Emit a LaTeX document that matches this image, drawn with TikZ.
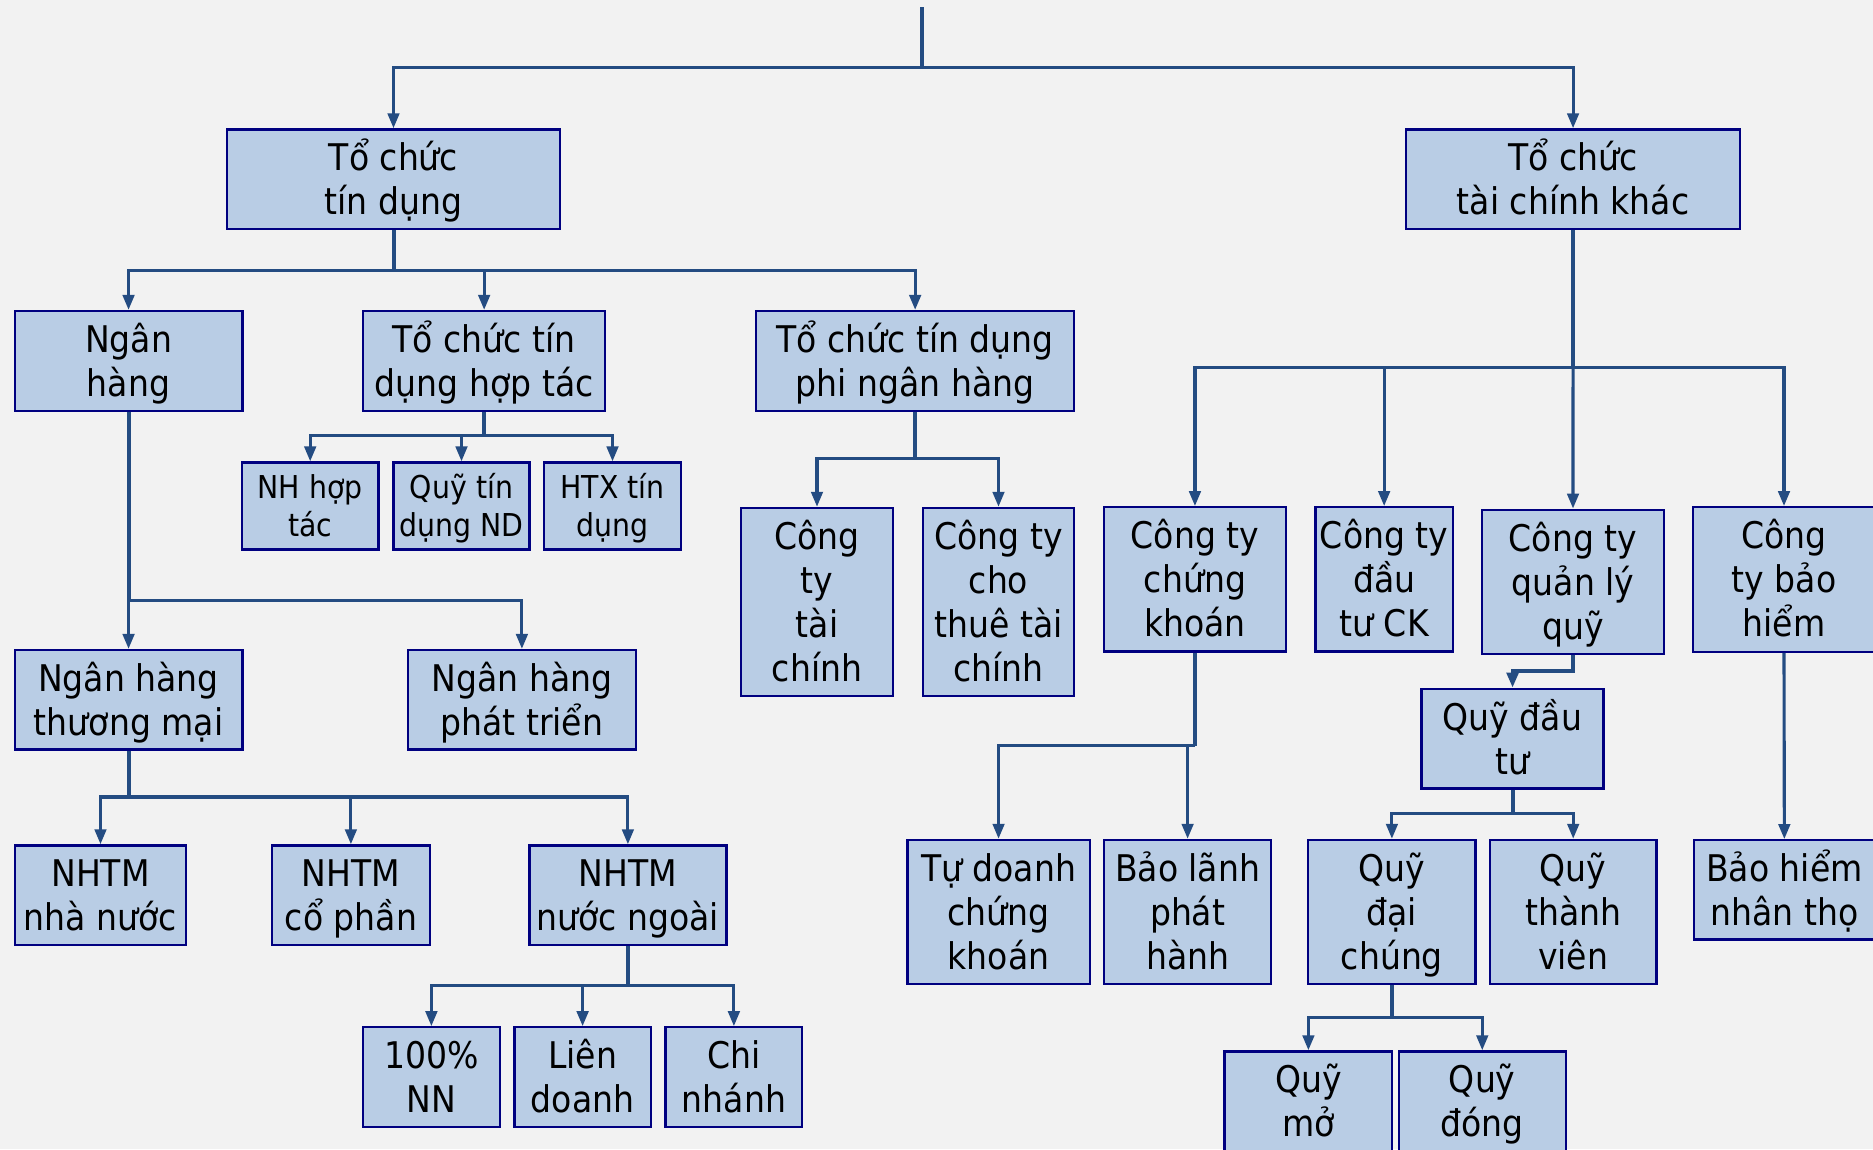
\documentclass[tikz,border=0pt]{standalone}
\usepackage{fontspec}
\setmainfont{DejaVu Sans}[FakeStretch=0.9]
\usetikzlibrary{arrows.meta}
\definecolor{bg}{HTML}{F2F2F2}
\definecolor{boxfill}{HTML}{B9CDE5}
\definecolor{boxline}{HTML}{000080}
\definecolor{conn}{RGB}{36,76,130}
\tikzset{
  box/.style={draw=boxline, fill=boxfill, line width=0.9pt, inner sep=0pt, align=center,
    font={\fontsize{14.7pt}{17.6pt}\selectfont\lineskiplimit=-20pt}},
  smallbox/.style={font={\fontsize{12.6pt}{15pt}\selectfont\lineskiplimit=-20pt}},
  ln/.style={draw=conn, line width=1.25pt},
  trunk/.style={draw=conn, line width=1.6pt},
  arr/.style={ln, -{Triangle[length=6pt,width=4.6pt]}},
}
\newcommand\bx[7][]{%
  \node[box,#1,minimum width={(#5-#3)*0.4pt},minimum height={(#6-#4)*0.4pt}]
    (#2) at ({(#3+#5)/2},{(#4+#6)/2}) {\rule{0pt}{1.02em}#7\rule[-0.29em]{0pt}{0pt}};}
\begin{document}
\begin{tikzpicture}[x=0.4pt,y=-0.4pt]
\clip (0,0) rectangle (1873,1149);
\fill[bg] (0,0) rectangle (1873,1149);

% boxes
\bx{tctd}{227}{129.4}{560}{229.2}{Tổ chức\\tín dụng}
\bx{tctck}{1406.2}{129.4}{1739.9}{229.2}{Tổ chức\\tài chính khác}
\bx{nh}{14.7}{311}{242.4}{410.7}{Ngân\\hàng}
\bx{ht}{363}{311}{605.3}{410.7}{Tổ chức tín\\dụng hợp tác}
\bx{pnh}{756}{311}{1074.3}{410.7}{Tổ chức tín dụng\\phi ngân hàng}
\bx[smallbox]{nhht}{242}{462.5}{378.4}{549.5}{NH hợp\\tác}
\bx[smallbox]{qtd}{393.5}{462.5}{529.5}{549.5}{Quỹ tín\\dụng ND}
\bx[smallbox]{htx}{544}{462.5}{681}{549.5}{HTX tín\\dụng}
\bx{cttc}{741}{507.9}{893}{696.1}{Công\\ty\\tài\\chính}
\bx{cttt}{922.7}{507.9}{1074.3}{696.1}{Công ty\\cho\\thuê tài\\chính}
\bx{ctck}{1104}{507.2}{1285.9}{651.4}{Công ty\\chứng\\khoán}
\bx{ctdt}{1315.6}{507.2}{1452.7}{651.4}{Công ty\\đầu\\tư CK}
\bx{ctql}{1482}{509.7}{1664}{654}{Công ty\\quản lý\\quỹ}
\bx{ctbh}{1693}{507.2}{1875}{651.7}{Công\\ty bảo\\hiểm}
\bx{nhtm}{14.7}{650}{242.4}{749.6}{Ngân hàng\\thương mại}
\bx{nhpt}{408}{650}{635.8}{749.6}{Ngân hàng\\phát triển}
\bx{qdt}{1421.6}{688.8}{1603.5}{788.5}{Quỹ đầu\\tư}
\bx{nn}{14.7}{845.4}{186.3}{945.1}{NHTM\\nhà nước}
\bx{cp}{272}{845.4}{429.8}{945.1}{NHTM\\cổ phần}
\bx{ng}{529.4}{845.4}{726.4}{945.1}{NHTM\\nước ngoài}
\bx{td}{907.4}{839.9}{1089.7}{984}{Tự doanh\\chứng\\khoán}
\bx{bl}{1104}{839.9}{1271.2}{984}{Bảo lãnh\\phát\\hành}
\bx{qdc}{1308.3}{839.9}{1475.5}{984}{Quỹ\\đại\\chúng}
\bx{qtv}{1489.8}{839.9}{1656.6}{984}{Quỹ\\thành\\viên}
\bx{bhnt}{1693.7}{840.2}{1875}{939.6}{Bảo hiểm\\nhân thọ}
\bx{p100}{363}{1027.3}{499.8}{1127}{100\%\\NN}
\bx{ld}{514.4}{1027.3}{650.8}{1127}{Liên\\doanh}
\bx{cn}{665.5}{1027.3}{802.3}{1127}{Chi\\nhánh}
\bx{qm}{1224.6}{1051.4}{1392.2}{1151}{Quỹ\\mở}
\bx{qd}{1398.8}{1051.4}{1565.7}{1151}{Quỹ\\đóng}

% connectors
\coordinate (top) at (921.8,7.3);
\coordinate (j0) at (921.8,67.8);
\draw[trunk] (top) -- (j0);
\draw[arr] (j0) -| (tctd.north);
\draw[arr] (j0) -| (tctck.north);

\coordinate (j1) at (393.5,270.3);
\draw[trunk] (tctd.south) -- (j1);
\draw[arr] (j1) -| (nh.north);
\draw[arr] (j1) -| (ht.north);
\draw[arr] (j1) -| (pnh.north);

\coordinate (j2) at (484.15,435.6);
\draw[trunk] (ht.south) -- (j2);
\draw[arr] (j2) -| (nhht.north);
\draw[arr] (j2) -| (qtd.north);
\draw[arr] (j2) -| (htx.north);

\coordinate (j3) at (915.15,458.4);
\draw[trunk] (pnh.south) -- (j3);
\draw[arr] (j3) -| (cttc.north);
\draw[arr] (j3) -| (cttt.north);

\coordinate (j4) at (128.55,600.4);
\draw[trunk] (nh.south) -- (j4);
\draw[arr] (j4) -- (nhtm.north);
\draw[arr] (j4) -| (nhpt.north);

\coordinate (j5) at (128.55,797);
\draw[trunk] (nhtm.south) -- (j5);
\draw[arr] (j5) -| (nn.north);
\draw[arr] (j5) -| (cp.north);
\draw[arr] (j5) -| (ng.north);

\coordinate (j6) at (627.9,985.8);
\draw[trunk] (ng.south) -- (j6);
\draw[arr] (j6) -| (p100.north);
\draw[arr] (j6) -| (ld.north);
\draw[arr] (j6) -| (cn.north);

\coordinate (j7) at (1573.05,367.8);
\draw[trunk] (tctck.south) -- (j7);
\draw[arr] (j7) -| (ctck.north);
\draw[arr] (j7) -| (ctdt.north);
\draw[arr] (j7) -- (ctql.north);
\draw[arr] (j7) -| (ctbh.north);

\coordinate (j8) at (1194.95,745.6);
\draw[trunk] (ctck.south) -- (j8);
\draw[arr] (j8) -| (td.north);
\draw[arr] (j8) -| (bl.north);

\coordinate (j9) at (1573,671.2);
\draw[arr, line width=1.5pt] (ctql.south) -- (j9) -| (qdt.north);

\coordinate (j10) at (1512.55,813.8);
\draw[trunk] (qdt.south) -- (j10);
\draw[arr] (j10) -| (qdc.north);
\draw[arr] (j10) -| (qtv.north);

\coordinate (j11) at (1391.9,1017.7);
\draw[trunk] (qdc.south) -- (j11);
\draw[arr] (j11) -| (qm.north);
\draw[arr] (j11) -| (qd.north);

\draw[arr] (ctbh.south) -- (bhnt.north);
\end{tikzpicture}
\end{document}
